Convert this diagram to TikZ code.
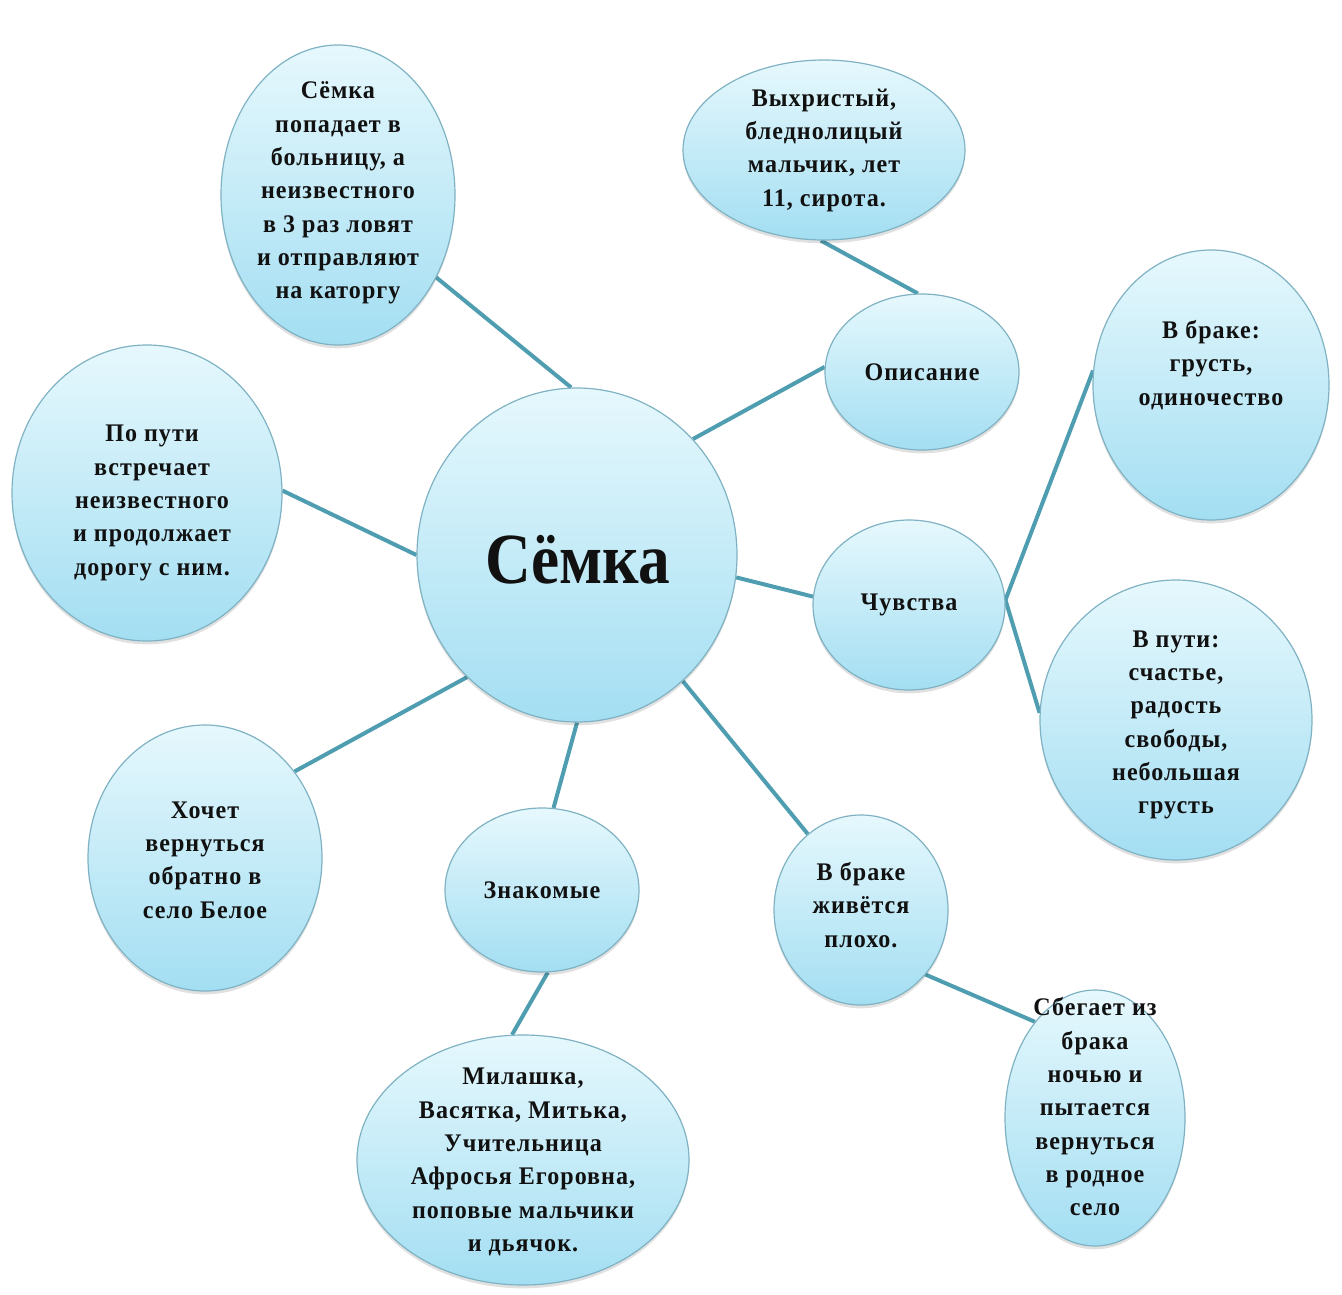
\documentclass[tikz,border=0pt]{standalone}
\usepackage{fontspec}
\setmainfont{Liberation Serif}[FakeStretch=0.95, LetterSpace=4]
\newfontfamily\titlefont{Liberation Serif}[FakeStretch=0.88]
\usetikzlibrary{shapes.geometric,backgrounds,shadows}
\definecolor{bubtop}{HTML}{E6F8FD}
\definecolor{bubbot}{HTML}{A3DEF2}
\definecolor{bubedge}{HTML}{7FB2C2}
\definecolor{link}{HTML}{4F9DB0}
\definecolor{ink}{HTML}{111111}
\tikzset{
  bubble/.style 2 args={ellipse, inner sep=0pt,
    minimum width=#1*0.75pt, minimum height=#2*0.75pt,
    top color=bubtop, bottom color=bubbot, draw=bubedge, line width=0.9pt,
    drop shadow={shadow xshift=0pt, shadow yshift=-2.5pt, opacity=0.12, fill=black}},
  txt/.style={align=center, text=ink, font=\bfseries\fontsize{19}{25}\selectfont, inner sep=0pt},
  link/.style={draw=link, line width=3pt}
}
\begin{document}
\begin{tikzpicture}[x=0.75pt,y=-0.75pt]
\useasboundingbox (0,0) rectangle (1342,1295);

% centre
\node[bubble={320}{334}] (c) at (577,555) {};
\node[align=center, text=ink, inner sep=0pt, font=\titlefont\bfseries\fontsize{54}{58}\selectfont] (c-t) at (578,560) {Сёмка};

% upper left: hospital
\node[bubble={234}{300}] (hosp) at (338,195) {};
\node[txt] (hosp-t) at (338,193) {Сёмка\\попадает в\\больницу, а\\неизвестного\\в 3 раз ловят\\и отправляют\\на каторгу};

% description
\node[bubble={282}{180}] (look) at (824,150) {};
\node[txt] (look-t) at (824,150) {Выхристый,\\бледнолицый\\мальчик, лет\\11, сирота.};
\node[bubble={194}{156}] (descr) at (922,372) {};
\node[txt] (descr-t) at (922,372) {Описание};

% feelings
\node[bubble={192}{170}] (feel) at (909,605) {};
\node[txt] (feel-t) at (909,605) {Чувства};
\node[bubble={236}{270}] (sad) at (1211,385) {};
\node[txt] (sad-t) at (1211,365) {В браке:\\грусть,\\одиночество};
\node[bubble={272}{280}] (joy) at (1176,720) {};
\node[txt] (joy-t) at (1176,725) {В пути:\\счастье,\\радость\\свободы,\\небольшая\\грусть};

% marriage
\node[bubble={174}{190}] (marr) at (861,910) {};
\node[txt] (marr-t) at (861,905) {В браке\\живётся\\плохо.};
\node[bubble={180}{256}] (run) at (1095,1118) {};
\node[txt] (run-t) at (1095,1107) {Сбегает из\\брака\\ночью и\\пытается\\вернуться\\в родное\\село};

% acquaintances
\node[bubble={194}{164}] (fr) at (542,890) {};
\node[txt] (fr-t) at (542,890) {Знакомые};
\node[bubble={332}{250}] (names) at (523,1160) {};
\node[txt] (names-t) at (523,1162) {Милашка,\\Васятка, Митька,\\Учительница\\Афросья Егоровна,\\поповые мальчики\\и дьячок.};

% left side
\node[bubble={234}{266}] (back) at (205,858) {};
\node[txt] (back-t) at (205,860) {Хочет\\вернуться\\обратно в\\село Белое};
\node[bubble={270}{296}] (road) at (147,493) {};
\node[txt] (road-t) at (152,503) {По пути\\встречает\\неизвестного\\и продолжает\\дорогу с ним.};

% connectors
\begin{scope}[on background layer]
  \draw[link] (c.92) -- (hosp.-40);
  \draw[link] (c.45) -- (descr.177);
  \draw[link] (descr.93) -- (look.-92);
  \draw[link] (c.-8) -- (feel.175);
  \draw[link] (feel.3) -- (sad.173);
  \draw[link] (feel.3) -- (joy.177);
  \draw[link] (c.-50) -- (marr.125);
  \draw[link] (marr.-45) -- (run.122);
  \draw[link] (c.-90) -- (fr.82);
  \draw[link] (fr.-86) -- (names.95);
  \draw[link] (c.-132) -- (back.44);
  \draw[link] (c.180) -- (road.1);
\end{scope}
\end{tikzpicture}
\end{document}
